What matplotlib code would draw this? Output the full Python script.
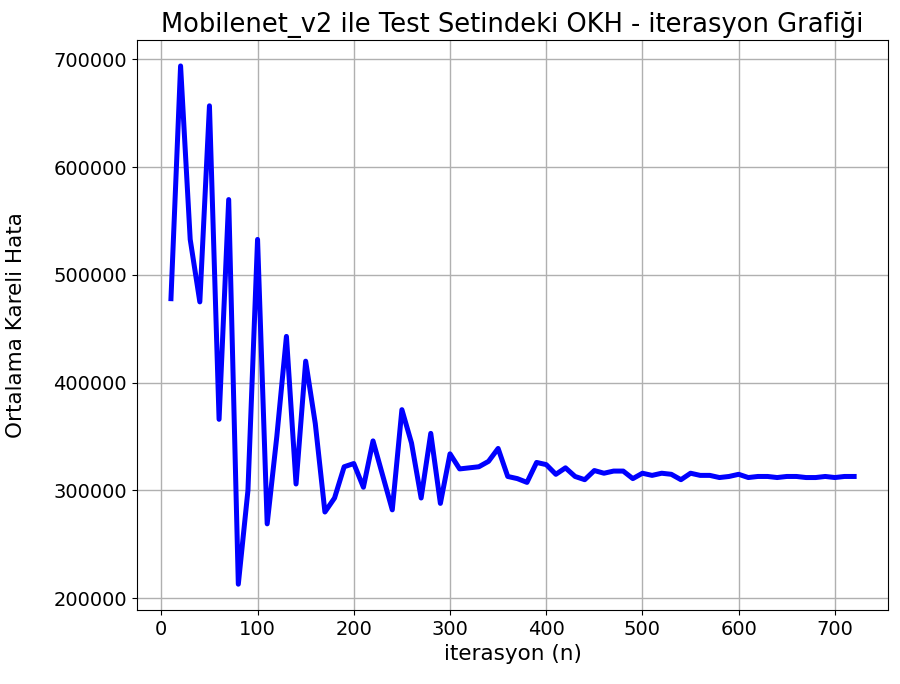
import numpy as np
import matplotlib
matplotlib.use("Agg")
import matplotlib.pyplot as plt

# iteration numbers and test-set MSE values
iterasyon = np.arange(10, 730, 10)
okh = [
    478000, 694000, 533000, 475000, 657000, 366000, 570000, 213000, 300000, 533000,
    269000, 350000, 443000, 306000, 420000, 362000, 280000, 293000, 322000, 325000,
    303000, 346000, 314000, 282000, 375000, 344000, 293000, 353000, 288000, 334000,
    320000, 321000, 322000, 327000, 339000, 313000, 311000, 307500, 326000, 324000,
    315000, 321000, 313000, 310000, 318500, 316000, 318000, 318000, 311000, 316000,
    314000, 316000, 315000, 310000, 316000, 314000, 314000, 312000, 313000, 315000,
    312000, 313000, 313000, 312000, 313000, 313000, 312000, 312000, 313000, 312000,
    313000, 313000,
]

fig = plt.figure(figsize=(9, 6.84), dpi=100)
ax = fig.add_axes([0.152, 0.108, 0.835, 0.8335])

ax.plot(iterasyon, okh, color='blue', linewidth=3.6)

ax.set_title('Mobilenet_v2 ile Test Setindeki OKH - iterasyon Grafiği', fontsize=18.5)
ax.set_xlabel('iterasyon (n)', fontsize=15.5)
ax.set_ylabel('Ortalama Kareli Hata', fontsize=15.5)
ax.yaxis.set_label_coords(-0.148, 0.5)
ax.tick_params(labelsize=14)
ax.grid(True, color='#b0b0b0', linewidth=1)

fig.savefig('out.png', dpi=100)
